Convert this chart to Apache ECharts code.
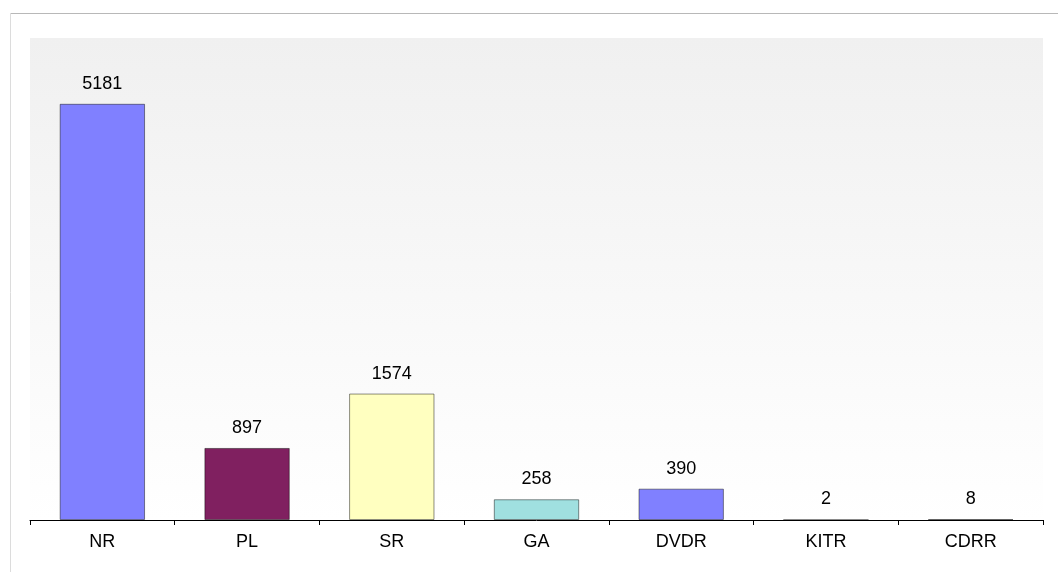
<!DOCTYPE html>
<html>
<head>
<meta charset="utf-8">
<script src="https://cdn.jsdelivr.net/npm/echarts@6/dist/echarts.min.js"></script>
<style>
  html, body { margin: 0; padding: 0; background: #fff; }
  #chart { width: 1058px; height: 572px; }
</style>
</head>
<body>
<div id="chart"></div>
<script>
// categories and values
const categories = ['NR', 'PL', 'SR', 'GA', 'DVDR', 'KITR', 'CDRR'];
const counts = [5181, 897, 1574, 258, 390, 2, 8];
const barColors = ['#8080FF', '#802060', '#FFFFC0', '#A0E0E0', '#8080FF', '#8080FF', '#802060'];

const chart = echarts.init(document.getElementById('chart'));

chart.setOption({
    animation: false,
    textStyle: { fontFamily: 'Liberation Sans, Arial, sans-serif' },
    graphic: [
        // outer frame, only top and left edges visible
        { type: 'line', shape: { x1: 10, y1: 13.5, x2: 1058, y2: 13.5 }, style: { stroke: '#b8b8b8', lineWidth: 1 } },
        { type: 'line', shape: { x1: 10.5, y1: 13, x2: 10.5, y2: 572 }, style: { stroke: '#dcdcdc', lineWidth: 1 } }
    ],
    grid: {
        left: 30, right: 15, top: 38, bottom: 52,
        show: true,
        borderWidth: 0,
        backgroundColor: {
            type: 'linear', x: 0, y: 0, x2: 0, y2: 1,
            colorStops: [
                { offset: 0, color: '#f0f0f0' },
                { offset: 1, color: '#ffffff' }
            ]
        }
    },
    xAxis: {
        type: 'category',
        data: categories,
        axisLine: { lineStyle: { color: '#000', width: 1 } },
        axisTick: { show: true, length: 5, lineStyle: { color: '#000' } },
        axisLabel: { color: '#000', fontSize: 18, margin: 13 }
    },
    yAxis: {
        type: 'value',
        min: 0, max: 6000,
        show: false,
        splitLine: { show: false }
    },
    series: [{
        type: 'bar',
        data: counts.map((v, i) => ({ value: v, itemStyle: { color: barColors[i] } })),
        barCategoryGap: '41%',
        itemStyle: { borderColor: 'rgba(0,0,0,0.45)', borderWidth: 1 },
        label: {
            show: true,
            position: 'top',
            distance: 11,
            color: '#000',
            fontSize: 18
        }
    }]
});
</script>
</body>
</html>
